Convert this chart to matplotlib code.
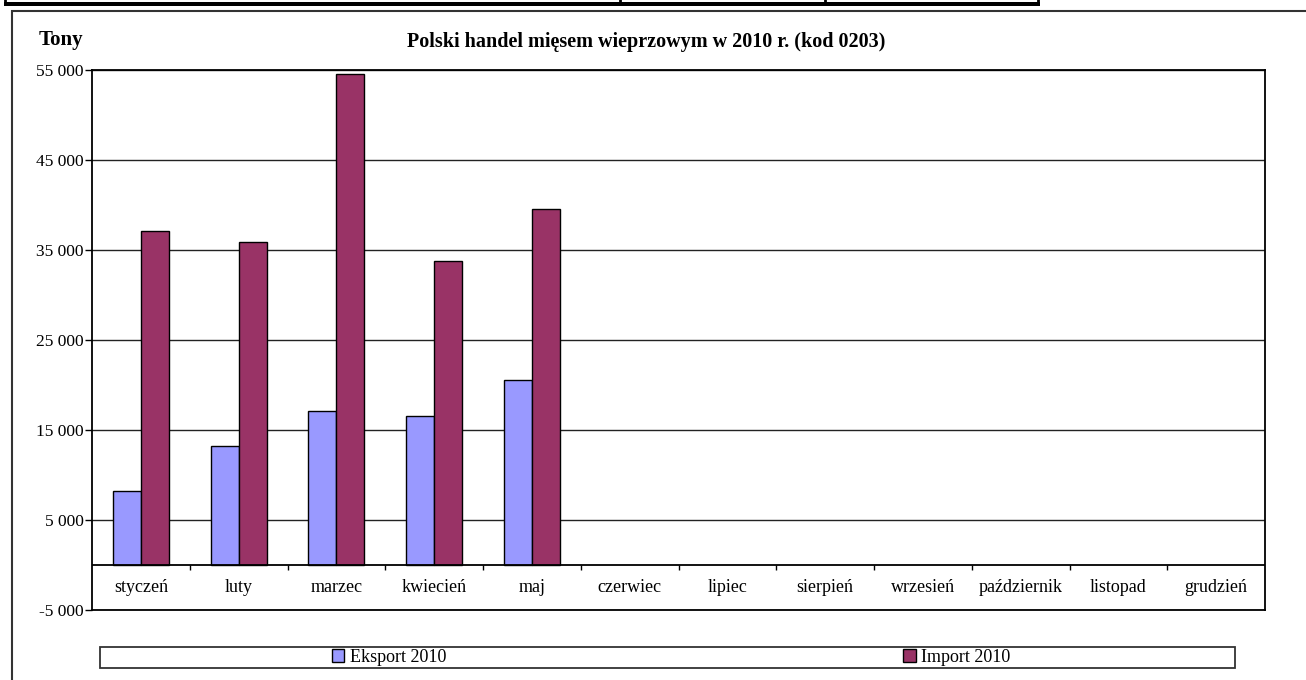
import matplotlib.pyplot as plt
from matplotlib.patches import Rectangle
from matplotlib.lines import Line2D
from matplotlib.ticker import FuncFormatter

months = ["styczeń", "luty", "marzec", "kwiecień", "maj", "czerwiec", "lipiec",
          "sierpień", "wrzesień", "październik", "listopad", "grudzień"]
eksport = [8250, 13250, 17100, 16600, 20600]
import_ = [37150, 35850, 54500, 33800, 39500]
yticks = [-5000, 5000, 15000, 25000, 35000, 45000, 55000]

plt.rcParams["font.family"] = ["Liberation Serif", "DejaVu Serif"]

W, H = 1306, 680
fig = plt.figure(figsize=(W / 100, H / 100), dpi=100)

# fragment of the table above the chart
fig.add_artist(Rectangle((4 / W, 1 - 6 / H), 1036 / W, 4 / H, transform=fig.transFigure,
                         color="black", lw=0))
for xv in [5, 620, 825, 1038]:
    fig.add_artist(Line2D([xv / W, xv / W], [1, 1 - 4 / H], transform=fig.transFigure,
                          color="black", lw=2))

# chart outer frame
fig.add_artist(Rectangle((11.5 / W, -0.1), 1.2, 1.1 - 11.5 / H, transform=fig.transFigure,
                         fill=False, edgecolor="#333333", lw=1.5))

ax = fig.add_axes([92 / W, 70 / H, (1265 - 92) / W, 540 / H])

n = len(months)
w = 0.2857
xe = [i - w / 2 for i in range(len(eksport))]
xi = [i + w / 2 for i in range(len(import_))]
ax.bar(xe, eksport, width=w, color="#9999FF", edgecolor="black", lw=1, zorder=3,
       label="Eksport 2010")
ax.bar(xi, import_, width=w, color="#993366", edgecolor="black", lw=1, zorder=3,
       label="Import 2010")

ax.set_xlim(-0.5, n - 0.5)
ax.set_ylim(-5000, 55000)
ax.set_yticks(yticks)
ax.yaxis.set_major_formatter(FuncFormatter(lambda v, p: f"{int(v):,}".replace(",", " ")))
ax.tick_params(axis="y", direction="out", length=5, width=1, labelsize=12.5, pad=1)
ax.set_xticks([])
ax.grid(axis="y", color="#222222", lw=1, zorder=0)

for s in ax.spines.values():
    s.set_linewidth(1.3)
    s.set_color("black")

# category axis at zero
ax.axhline(0, color="black", lw=1.3, zorder=4)
ax.vlines([i + 0.5 for i in range(n - 1)], -550, 0, color="black", lw=1, zorder=4)
for i, m in enumerate(months):
    ax.text(i, -2450, m, ha="center", va="center", fontsize=13)

fig.text(61 / W, 1 - 40 / H, "Tony", ha="center", va="center", fontsize=15, fontweight="bold")
fig.text(646 / W, 1 - 42 / H, "Polski handel mięsem wieprzowym w 2010 r. (kod 0203)",
         ha="center", va="center", fontsize=14.5, fontweight="bold")

# legend box
fig.add_artist(Rectangle((100 / W, 1 - 668 / H), 1135 / W, 21 / H, transform=fig.transFigure,
                         fill=False, edgecolor="#333333", lw=1.3))
fig.legend(loc="center", bbox_to_anchor=(671 / W, 1 - 657.5 / H), ncol=2, frameon=False,
           fontsize=13, handlelength=0.7, handleheight=0.7, handletextpad=0.3,
           columnspacing=25.3, borderpad=0)

fig.savefig("out.png", dpi=100)
